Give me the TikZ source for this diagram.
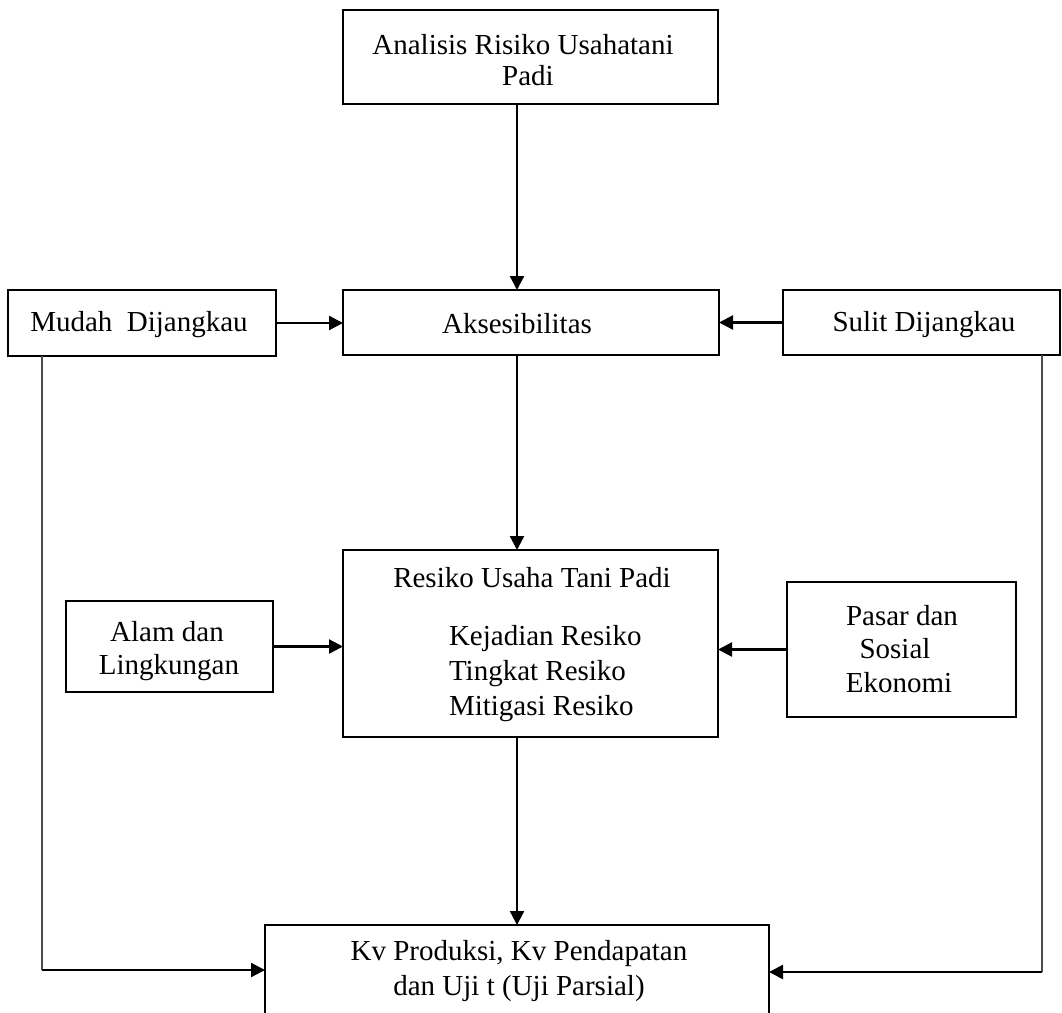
\documentclass[tikz,border=0pt]{standalone}
\usepackage{fontspec}
\setmainfont{Liberation Serif}
\usetikzlibrary{arrows.meta,calc}
\begin{document}
\begin{tikzpicture}[x=1pt,y=-1pt,
  box/.style={draw,line width=2.8pt,inner sep=0pt,outer sep=0pt,align=center,font=\fontsize{29}{33}\selectfont},
  lbl/.style={inner sep=0pt,outer sep=0pt,font=\fontsize{29}{35}\selectfont},
  arr/.style={line width=2.3pt,-{Triangle[length=14pt,width=14pt]}},
  side/.style={line width=1.4pt,draw=black!70},
]
\useasboundingbox (0,0) rectangle (1062,1012);
\clip (0,0) rectangle (1062,1012);

% boxes
\node[box,minimum width=375pt,minimum height=94pt,font=\fontsize{29}{31}\selectfont] (top) at (530.5,57) {};
\node[box,minimum width=376pt,minimum height=65pt] (aks) at (531,322.5) {};
\node[box,minimum width=268pt,minimum height=66pt] (mudah) at (142,323) {};
\node[box,minimum width=277pt,minimum height=65pt] (sulit) at (921.5,322.5) {};
\node[box,minimum width=375pt,minimum height=187pt] (res) at (530.5,643.5) {};
\node[box,minimum width=207pt,minimum height=91pt] (alam) at (169.5,646.5) {};
\node[box,minimum width=229pt,minimum height=135pt] (pasar) at (901.5,649.5) {};
\node[box,minimum width=504pt,minimum height=130pt] (bot) at (517,990) {};

% texts
\node[lbl,anchor=base] (topA) at (523,54) {Analisis Risiko Usahatani};
\node[lbl,anchor=base] (topB) at (528,85) {Padi};
\node[lbl,anchor=base] (aksT) at (517,333) {Aksesibilitas};
\node[lbl,anchor=base] (mudahT) at (139,331) {Mudah\ \ Dijangkau};
\node[lbl,anchor=base] (sulitT) at (924,331) {Sulit Dijangkau};
\node[lbl,anchor=base] (resT) at (532,587) {Resiko Usaha Tani Padi};
\node[lbl,anchor=base west] (resA) at (449,645) {Kejadian Resiko};
\node[lbl,anchor=base west] (resB) at (449,680) {Tingkat Resiko};
\node[lbl,anchor=base west] (resC) at (449,715) {Mitigasi Resiko};
\node[lbl,anchor=base] (alamA) at (167,641) {Alam dan};
\node[lbl,anchor=base] (alamB) at (169,674) {Lingkungan};
\node[lbl,anchor=base] (pasA) at (902,625) {Pasar dan};
\node[lbl,anchor=base] (pasB) at (895,658) {Sosial};
\node[lbl,anchor=base] (pasC) at (899,692) {Ekonomi};
\node[lbl,anchor=base] (botA) at (519,960) {Kv Produksi, Kv Pendapatan};
\node[lbl,anchor=base] (botB) at (519,995) {dan Uji t (Uji Parsial)};

% connectors
\draw[arr] (aksT.center |- top.south) -- (aksT.center |- aks.north);
\draw[arr] (aksT.center |- aks.south) -- (aksT.center |- res.north);
\draw[arr] (bot.north |- res.south) -- (bot.north);
\draw[arr] (mudah.east) -- (mudah.east -| aks.west);
\draw[arr] (sulit.west) -- (sulit.west -| aks.east);
\draw[arr] (alam.east) -- (alam.east -| res.west);
\draw[arr] (pasar.west) -- (pasar.west -| res.east);

\coordinate (lc) at (42,970);
\coordinate (rc) at (1042,972);
\draw[side] (mudah.south -| lc) -- (lc);
\draw[arr] (lc) -- (lc -| bot.west);
\draw[side] (sulit.south -| rc) -- (rc);
\draw[arr] (rc) -- (rc -| bot.east);
\end{tikzpicture}
\end{document}
